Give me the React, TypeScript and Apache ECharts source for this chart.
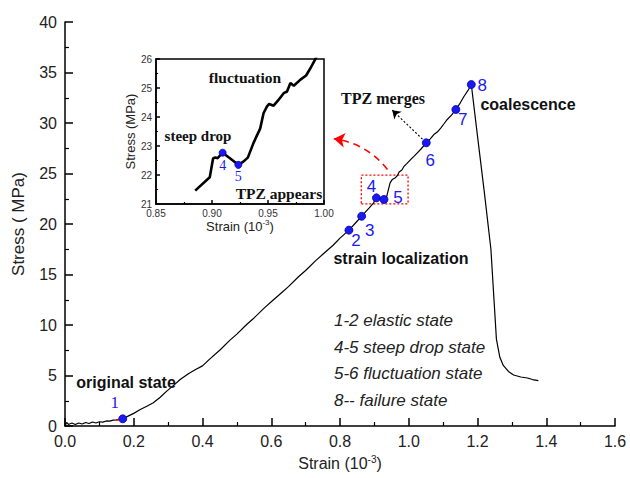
import React, { useEffect, useRef } from 'react';
import * as echarts from 'echarts';

// ---------- data ----------
const mainCurve: [number, number][] = [
  [0, 0], [0.005, 0.35], [0.01, 0.15], [0.02, 0.3], [0.03, 0.15], [0.04, 0.3], [0.05, 0.2],
  [0.06, 0.35], [0.07, 0.25], [0.08, 0.4], [0.09, 0.3], [0.1, 0.42], [0.11, 0.38], [0.12, 0.5],
  [0.13, 0.48], [0.14, 0.58], [0.15, 0.6], [0.168, 0.71], [0.185, 1.0], [0.2, 1.25], [0.219, 1.63],
  [0.238, 1.95], [0.257, 2.3], [0.277, 2.85], [0.296, 3.45], [0.315, 4.0], [0.335, 4.6],
  [0.36, 5.2], [0.38, 5.6], [0.4, 5.95], [0.42, 6.6], [0.45, 7.5], [0.48, 8.5], [0.5, 9.1],
  [0.53, 10.1], [0.55, 10.7], [0.58, 11.7], [0.6, 12.3], [0.63, 13.2], [0.65, 13.8], [0.68, 14.8],
  [0.7, 15.4], [0.73, 16.4], [0.75, 17.0], [0.78, 17.9], [0.8, 18.6], [0.826, 19.39], [0.845, 20.1],
  [0.863, 20.77], [0.885, 21.6], [0.898, 22.1], [0.902, 22.5], [0.906, 22.59], [0.915, 22.55],
  [0.928, 22.43], [0.935, 22.6], [0.94, 23.3], [0.946, 24.1], [0.952, 24.4], [0.96, 24.55],
  [0.967, 24.8], [0.972, 25.15], [0.98, 25.35], [0.986, 25.7], [0.995, 26.0], [1.006, 26.4],
  [1.015, 26.7], [1.025, 27.05], [1.035, 27.4], [1.051, 28.04], [1.062, 28.4], [1.073, 28.86],
  [1.083, 29.1], [1.093, 29.5], [1.102, 29.9], [1.112, 30.35], [1.125, 30.8], [1.137, 31.34],
  [1.15, 32.0], [1.161, 32.65], [1.172, 33.2], [1.182, 33.81], [1.2, 28.7], [1.22, 23.1],
  [1.239, 17.5], [1.248, 12.5], [1.255, 8.6], [1.265, 6.8], [1.275, 6.0], [1.29, 5.4],
  [1.305, 5.05], [1.326, 4.85], [1.345, 4.75], [1.36, 4.6], [1.377, 4.5],
];

const redSegment: [number, number][] = [[0.148, 0.58], [0.163, 0.69]];

const insetCurve: [number, number][] = [
  [0.885, 21.46], [0.898, 21.92], [0.901, 22.58], [0.903, 22.6], [0.905, 22.58], [0.9095, 22.77],
  [0.916, 22.58], [0.9235, 22.35], [0.928, 22.46], [0.932, 22.6], [0.937, 23.1], [0.939, 23.27],
  [0.943, 23.6], [0.946, 24.13], [0.949, 24.36], [0.951, 24.45], [0.955, 24.39], [0.959, 24.57],
  [0.964, 24.82], [0.967, 24.88], [0.97, 25.17], [0.973, 25.08], [0.979, 25.29], [0.984, 25.43],
  [0.988, 25.69], [0.992, 25.98], [0.995, 26.2],
];

const stagePoints: [number, number][] = [
  [0.168, 0.71], [0.826, 19.39], [0.863, 20.77], [0.906, 22.59], [0.928, 22.43],
  [1.051, 28.04], [1.137, 31.34], [1.182, 33.81],
];
const stageLabels = ['1', '2', '3', '4', '5', '6', '7', '8'];

const insetPoints: [number, number][] = [[0.9095, 22.77], [0.9235, 22.35]];
const insetLabels = ['4', '5'];

const stateNotes = ['1-2 elastic state', '4-5 steep drop state', '5-6 fluctuation state', '8-- failure state'];

// annotation anchors (data coordinates)
const zoomArrow: [number, number][] = [[0.938, 25.4], [0.782, 28.44]];
const mergeArrow: [number, number][] = [[1.04, 28.4], [0.952, 31.27]];
const zoomBox: [number, number][] = [[0.862, 22.0], [0.998, 24.83]];

const mainX = { min: 0, max: 1.6, interval: 0.2 };
const mainY = { min: 0, max: 40, interval: 5 };
const insetX = { min: 0.85, max: 1.0, interval: 0.05 };
const insetY = { min: 21, max: 26, interval: 1 };

// ---------- styles ----------
const SANS = 'Liberation Sans, Arial, sans-serif';
const SERIF = 'Liberation Serif, Times New Roman, serif';
const BLUE = '#1a1af0';

const stageLabelOffsets: [number, number][] = [
  [-8, -16], [7, 10], [8, 14], [-5, -11], [14, -2], [4, 18], [7, 10], [11, 1],
];
const insetLabelOffsets: [number, number][] = [[0, 13], [0, 12]];

export default function App() {
  const ref = useRef<HTMLDivElement>(null);

  useEffect(() => {
    document.body.style.margin = '0';
    const chart = echarts.init(ref.current!, undefined, { renderer: 'svg' });

    const axisCommon = (fs: number, len: number) => ({
      axisLine: { show: true, onZero: false, lineStyle: { color: '#000', width: 1.5 } },
      axisTick: { show: true, inside: true, length: len, lineStyle: { color: '#000', width: 1.5 } },
      minorTick: { show: true, splitNumber: 2, length: len / 2, lineStyle: { color: '#000', width: 1.2 } },
      splitLine: { show: false },
      axisLabel: { fontSize: fs, color: '#222', fontFamily: SANS },
    });

    const option: any = {
      animation: false,
      backgroundColor: '#fff',
      grid: [
        { left: 65, right: 15, top: 22, bottom: 52 },
        { left: 156, right: 306, top: 59, bottom: 274, show: true, backgroundColor: '#fff', borderColor: '#000', borderWidth: 1.5, z: 5 },
      ],
      xAxis: [
        {
          type: 'value', gridIndex: 0, ...mainX, ...axisCommon(16, 8),
          axisLabel: { fontSize: 16, color: '#222', fontFamily: SANS, margin: 7, formatter: (v: number) => v.toFixed(1) },
          name: '{a|Strain (10}{b|-3}{a|)}', nameLocation: 'middle', nameGap: 28,
          nameTextStyle: {
            rich: {
              a: { fontSize: 16, fontFamily: SANS, color: '#222' },
              b: { fontSize: 10, fontFamily: SANS, color: '#222', padding: [0, 0, 9, 0] },
            },
          },
        },
        {
          type: 'value', gridIndex: 1, ...insetX, ...axisCommon(10, 4), z: 6,
          axisLabel: { fontSize: 10, color: '#333', fontFamily: SANS, margin: 4, formatter: (v: number) => v.toFixed(2) },
          name: '{a|Strain (10}{b|-3}{a|)}', nameLocation: 'middle', nameGap: 13,
          nameTextStyle: {
            rich: {
              a: { fontSize: 13, fontFamily: SANS, color: '#222' },
              b: { fontSize: 8, fontFamily: SANS, color: '#222', padding: [0, 0, 7, 0] },
            },
          },
        },
      ],
      yAxis: [
        {
          type: 'value', gridIndex: 0, ...mainY, ...axisCommon(16, 8),
          axisLabel: { fontSize: 16, color: '#222', fontFamily: SANS, margin: 8 },
          name: 'Stress ( MPa)', nameLocation: 'middle', nameGap: 38,
          nameTextStyle: { fontSize: 17, fontFamily: SANS, color: '#222' },
        },
        {
          type: 'value', gridIndex: 1, ...insetY, ...axisCommon(10, 4), z: 6,
          axisLabel: { fontSize: 10, color: '#333', fontFamily: SANS, margin: 4 },
          name: 'Stress (MPa)', nameLocation: 'middle', nameGap: 14,
          nameTextStyle: { fontSize: 13, fontFamily: SANS, color: '#222' },
        },
      ],
      series: [
        {
          type: 'line', xAxisIndex: 0, yAxisIndex: 0, data: mainCurve, showSymbol: false,
          lineStyle: { color: '#000', width: 1.2 }, z: 2,
          markArea: {
            silent: true,
            itemStyle: { color: 'rgba(0,0,0,0)', borderColor: '#ff0000', borderWidth: 1.3, borderType: [2, 2] },
            data: [[{ coord: zoomBox[0] }, { coord: zoomBox[1] }]],
          },
        },
        {
          type: 'line', xAxisIndex: 0, yAxisIndex: 0, data: redSegment, showSymbol: false,
          lineStyle: { color: '#ff0000', width: 1.5 }, z: 3,
        },
        {
          type: 'lines', coordinateSystem: 'cartesian2d', xAxisIndex: 0, yAxisIndex: 0, z: 3, silent: true,
          symbol: ['none', 'arrow'], symbolSize: 11,
          lineStyle: { color: '#ff0000', type: [7, 5], width: 1.6, curveness: -0.2, opacity: 1 },
          data: [{ coords: zoomArrow }],
        },
        {
          type: 'lines', coordinateSystem: 'cartesian2d', xAxisIndex: 0, yAxisIndex: 0, z: 3, silent: true,
          symbol: ['none', 'arrow'], symbolSize: 8,
          lineStyle: { color: '#000', type: [2, 2], width: 1.1, curveness: 0, opacity: 1 },
          data: [{ coords: mergeArrow }],
        },
        {
          type: 'scatter', xAxisIndex: 0, yAxisIndex: 0, symbolSize: 8, z: 4,
          itemStyle: { color: BLUE, borderColor: '#0000b0', borderWidth: 0.8, opacity: 1 },
          data: stagePoints.map((p, i) => ({
            value: p,
            label: {
              show: true, position: 'inside', offset: stageLabelOffsets[i], formatter: stageLabels[i],
              fontSize: 17, color: BLUE, fontFamily: i === 0 ? SERIF : SANS,
            },
          })),
        },
        {
          type: 'line', xAxisIndex: 1, yAxisIndex: 1, data: insetCurve, showSymbol: false, clip: true,
          lineStyle: { color: '#000', width: 2.6 }, z: 6,
        },
        {
          type: 'scatter', xAxisIndex: 1, yAxisIndex: 1, symbolSize: 7, z: 7,
          itemStyle: { color: BLUE, borderColor: '#0000b0', borderWidth: 0.8, opacity: 1 },
          data: insetPoints.map((p, i) => ({
            value: p,
            label: {
              show: true, position: 'inside', offset: insetLabelOffsets[i], formatter: insetLabels[i],
              fontSize: 14, color: BLUE, fontFamily: SERIF,
            },
          })),
        },
      ],
      graphic: [
        ...[
          { t: 'original state', x: 126, y: 382, f: `bold 16px ${SANS}` },
          { t: 'strain localization', x: 401, y: 258, f: `bold 16px ${SANS}` },
          { t: 'coalescence', x: 528, y: 104, f: `bold 16px ${SANS}` },
          { t: 'TPZ merges', x: 383, y: 98, f: `bold 16px ${SERIF}` },
          { t: 'fluctuation', x: 245, y: 77, f: `bold 15.5px ${SERIF}` },
          { t: 'steep drop', x: 198, y: 136, f: `bold 15px ${SERIF}` },
          { t: 'TPZ appears', x: 279, y: 193, f: `bold 15.5px ${SERIF}` },
        ].map((d) => ({
          type: 'text', x: d.x, y: d.y, z: 20,
          style: { text: d.t, font: d.f, fill: '#111', align: 'center', verticalAlign: 'middle' },
        })),
        ...stateNotes.map((t, i) => ({
          type: 'text', x: 334, y: 320.5 + i * 26.5, z: 20,
          style: { text: t, font: `italic 17px ${SANS}`, fill: '#222', align: 'left', verticalAlign: 'middle' },
        })),
      ],
    };

    chart.setOption(option);
    return () => chart.dispose();
  }, []);

  return <div ref={ref} style={{ position: 'fixed', left: 0, top: 0, width: 630, height: 478 }} />;
}
